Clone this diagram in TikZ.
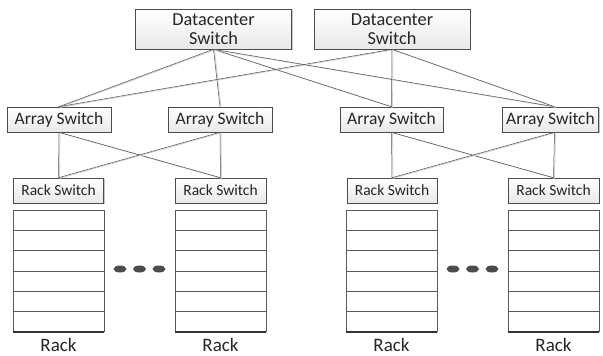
\documentclass[tikz,border=0pt]{standalone}
\usepackage{fontspec}
\setmainfont{Carlito}
\usetikzlibrary{shadows,shapes.geometric}
\begin{document}
\begin{tikzpicture}[x=1pt,y=-1pt,
  swbox/.style={draw=gray!60!black, line width=0.6pt, top color=white, bottom color=gray!18,
    inner sep=0pt, align=center, text=black!85,
    drop shadow={shadow xshift=1.2pt, shadow yshift=-1.2pt, fill=gray!45, opacity=1}},
  dcbox/.style={swbox, minimum width=156pt, minimum height=40pt, font=\fontsize{18.3}{18.5}\selectfont},
  asbox/.style={swbox, minimum height=25pt, font=\fontsize{17.5}{18}\selectfont},
  rsbox/.style={swbox, minimum height=25pt, font=\fontsize{15.5}{16}\selectfont},
  link/.style={draw=black!70, line width=0.5pt,
    preaction={draw=gray!35, line width=0.8pt, transform canvas={xshift=1pt,yshift=-0.6pt}}},
  racklabel/.style={font=\fontsize{19}{19}\selectfont, text=black!85, inner sep=0pt},
  dot/.style={ellipse, fill=black!70, draw=none, minimum width=13pt, minimum height=7pt, inner sep=0pt}
]
\useasboundingbox (0,0) rectangle (603,356);

% Datacenter switches
\node[dcbox] (dc1) at (213.5,29) {Datacenter\\Switch};
\node[dcbox] (dc2) at (392,29) {Datacenter\\Switch};

% Array switches
\node[asbox, minimum width=104pt] (as1) at (59,119.5) {Array Switch};
\node[asbox, minimum width=104pt] (as2) at (220,119.5) {Array Switch};
\node[asbox, minimum width=103pt] (as3) at (391.5,119.5) {Array Switch};
\node[asbox, minimum width=96pt] (as4) at (550.5,119.5) {Array Switch};

% Rack switches
\node[rsbox, minimum width=90pt] (rs1) at (58.5,190.5) {Rack Switch};
\node[rsbox, minimum width=91pt] (rs2) at (220.5,190.5) {Rack Switch};
\node[rsbox, minimum width=90pt] (rs3) at (392,190.5) {Rack Switch};
\node[rsbox, minimum width=91pt] (rs4) at (553.5,190.5) {Rack Switch};

% Datacenter to array links
\draw[link] (dc1.south) -- (as1.north);
\draw[link] (dc1.south) -- (as2.north);
\draw[link] (dc1.south) -- (as3.north);
\draw[link] (dc1.south) -- ([xshift=4pt]as4.north);
\draw[link] (dc2.south) -- (as1.north);
\draw[link] (dc2.south) -- (as3.north);
\draw[link] (dc2.south) -- ([xshift=4pt]as4.north);

% Array to rack links
\draw[link] (as1.south) -- (rs1.north);
\draw[link] (as1.south) -- (rs2.north);
\draw[link] (as2.south) -- (rs1.north);
\draw[link] (as2.south) -- (rs2.north);
\draw[link] (as3.south) -- (rs3.north);
\draw[link] (as3.south) -- (rs4.north);
\draw[link] ([xshift=4pt]as4.south) -- (rs3.north);
\draw[link] ([xshift=4pt]as4.south) -- (rs4.north);

% Racks
\foreach \n/\xa/\xb in {1/13/104, 2/175/266, 3/346/437, 4/508/599}{
  \foreach \k in {1,...,5}{
    \draw[black!65, line width=0.6pt] (\xa,{210+\k*20.33}) -- (\xb,{210+\k*20.33});
  }
  \draw[black!65, line width=0.6pt] (\xa,332) -- (\xa,210) -- (\xb,210) -- (\xb,332);
  \draw[black!80, line width=1.3pt] (\xa,332) -- (\xb,332);
  \node[racklabel] (rl\n) at ({(\xa+\xb)/2},345) {Rack};
}

% Ellipsis dots
\node[dot] (d1) at (120,269) {};
\node[dot] (d2) at (139.5,269) {};
\node[dot] (d3) at (159,269) {};
\node[dot] (d4) at (453,269) {};
\node[dot] (d5) at (472.5,269) {};
\node[dot] (d6) at (492,269) {};
\end{tikzpicture}
\end{document}
